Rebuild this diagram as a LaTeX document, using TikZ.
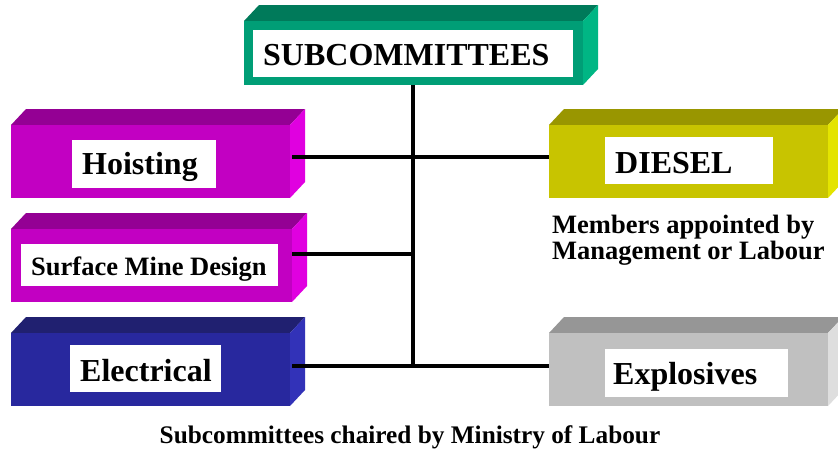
\documentclass[tikz,border=0pt]{standalone}
\usepackage{fontspec}
\setmainfont{Liberation Serif}
\begin{document}
\definecolor{grnF}{RGB}{0,158,118}
\definecolor{grnT}{RGB}{0,122,90}
\definecolor{grnS}{RGB}{0,182,132}
\definecolor{magF}{RGB}{194,0,194}
\definecolor{magT}{RGB}{148,0,148}
\definecolor{magS}{RGB}{224,0,224}
\definecolor{bluF}{RGB}{40,40,158}
\definecolor{bluT}{RGB}{32,32,112}
\definecolor{bluS}{RGB}{50,50,184}
\definecolor{yelF}{RGB}{200,196,0}
\definecolor{yelT}{RGB}{153,150,0}
\definecolor{yelS}{RGB}{228,228,0}
\definecolor{gryF}{RGB}{192,192,192}
\definecolor{gryT}{RGB}{150,150,150}
\definecolor{gryS}{RGB}{222,222,222}
\begin{tikzpicture}[x=1pt,y=-1pt,
  face/.style={inner sep=0pt,outer sep=0pt,anchor=north west},
  label/.style={fill=white,inner sep=0pt,outer sep=0pt,anchor=north west},
  caption/.style={font=\bfseries\fontsize{32}{32}\selectfont,anchor=base west,inner sep=0pt},
  note/.style={font=\bfseries\fontsize{26.5}{26.5}\selectfont,inner sep=0pt,anchor=base west},
  link/.style={line width=3.8pt}]
\useasboundingbox[fill=white] (0,0) rectangle (838,453);
% extruded slab: name, x1, y1, x2, y2, colour prefix
\newcommand\slab[6]{%
  \fill[#6T] (#2,#3) -- ++(15,-16) -- (#4+15,#3-16) -- (#4,#3) -- cycle;
  \fill[#6S] (#4,#3) -- (#4+15,#3-16) -- (#4+15,#5-16) -- (#4,#5) -- cycle;
  \node[face,fill=#6F,minimum width=#4-#2,minimum height=#5-#3] (#1) at (#2,#3) {};}
% slabs
\slab{top}{244}{21}{583}{85}{grn}
\slab{hoist}{11}{125}{290}{198}{mag}
\slab{surf}{11}{229}{292}{302}{mag}
\slab{elec}{11}{333}{290}{406}{blu}
\slab{diesel}{549}{125}{828}{198}{yel}
\slab{expl}{549}{333}{828}{406}{gry}
% white label panels
\node[label,minimum width=320,minimum height=47] (topL) at (253,30) {};
\node[label,minimum width=144,minimum height=48] (hoistL) at (72,140) {};
\node[label,minimum width=257,minimum height=42] (surfL) at (21,244) {};
\node[label,minimum width=151,minimum height=47] (elecL) at (70,345) {};
\node[label,minimum width=168,minimum height=47] (dieselL) at (605,137) {};
\node[label,minimum width=183,minimum height=48] (explL) at (605,349) {};
% captions
\node[caption] (topT) at (263,65) {SUBCOMMITTEES};
\node[caption] (hoistT) at (82,174) {Hoisting};
\node[caption,font=\bfseries\fontsize{26.5}{26.5}\selectfont] (surfT) at (31,275) {Surface Mine Design};
\node[caption] (elecT) at (80,381) {Electrical};
\node[caption] (dieselT) at (615,173) {DIESEL};
\node[caption] (explT) at (613,384) {Explosives};
% connectors
\coordinate (trunk) at (413,85);
\coordinate (r1) at (413,157);
\coordinate (r2) at (413,254);
\coordinate (r3) at (413,366);
\draw[link] (top.south -| trunk) -- (r3);
\draw[link] (292,157) coordinate (h1) -- (r1) -- (diesel.west |- r1);
\draw[link] (292,254) coordinate (s1) -- (r2);
\draw[link] (292,366) coordinate (e1) -- (r3) -- (expl.west |- r3);
% notes
\node[note] (members1) at (552,233) {Members appointed by};
\node[note] (members2) at (552,259) {Management or Labour};
\node[note,anchor=base,font=\bfseries\fontsize{25.3}{25.3}\selectfont] (chair) at (410,443) {Subcommittees chaired by Ministry of Labour};
\end{tikzpicture}
\end{document}
